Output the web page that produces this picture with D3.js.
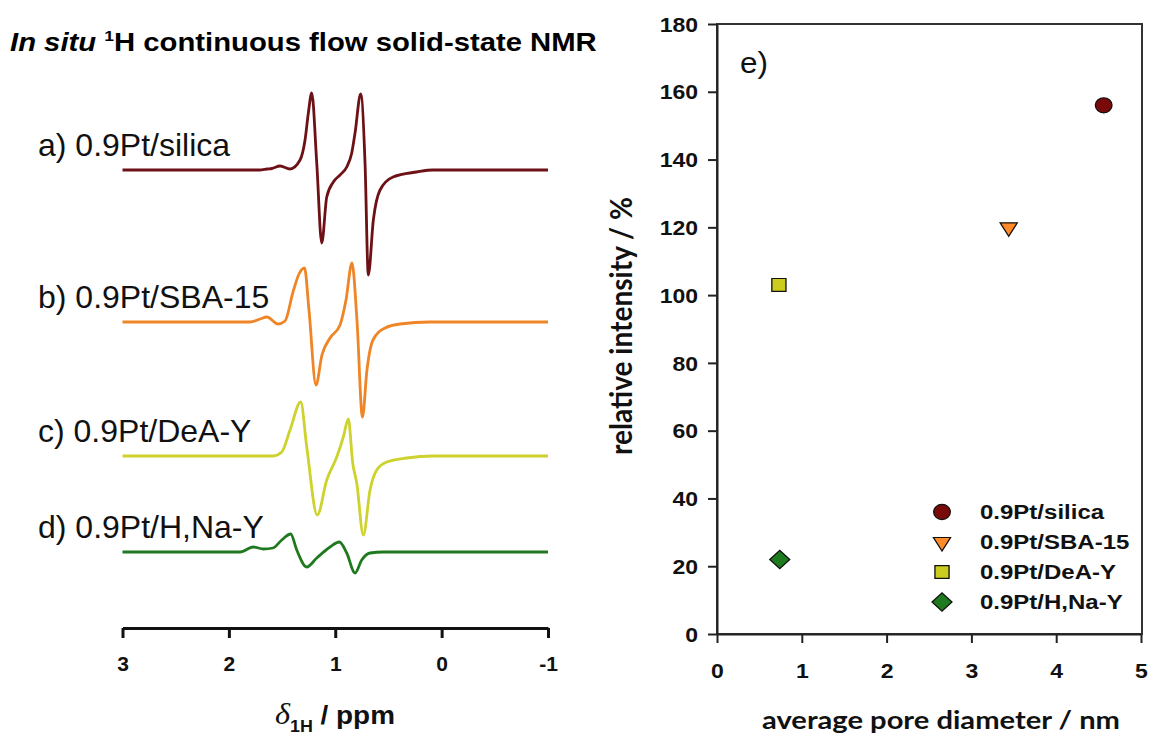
<!DOCTYPE html>
<html>
<head>
<meta charset="utf-8">
<script src="https://cdn.jsdelivr.net/npm/d3@7"></script>
<style>
body { margin: 0; background: #fff; }
svg { display: block; }
</style>
</head>
<body>
<svg></svg>
<script>
// spectra: chemical shift (ppm) and signal (a.u.)
const silicaPpm = [3.00, 2.27, 1.71, 1.64, 1.595, 1.519, 1.425, 1.331, 1.284, 1.253, 1.221, 1.174, 1.127, 1.080, 1.018, 0.955, 0.892, 0.845, 0.814, 0.761, 0.720, 0.689, 0.642, 0.579, 0.457, 0.234, 0.081, -1.00]
const silicaInt = [0, 0, 0, 1, 1.5, 4, 1, 10, 30, 57, 77, 7, -73, -27, -12, -5, 3, 17, 37, 76, 7, -105, -50, -20, -7, -2, 0, 0]

const sbaPpm = [3.00, 1.801, 1.707, 1.642, 1.538, 1.472, 1.397, 1.341, 1.289, 1.247, 1.181, 1.125, 1.049, 0.955, 0.899, 0.843, 0.796, 0.744, 0.702, 0.645, 0.532, 0.391, 0.109, -1.00]
const sbaInt = [0, 0, 3, 5, -2, 1, 30, 48, 54, 12, -63, -33, -16, -3, 22, 59, 2, -95, -48, -18, -6, -2, 0, 0]

const deaPpm = [3.00, 1.585, 1.503, 1.425, 1.325, 1.268, 1.169, 1.080, 0.986, 0.924, 0.877, 0.836, 0.798, 0.736, 0.673, 0.610, 0.516, 0.328, 0.081, -1.00]
const deaInt = [0, 0, 4, 26, 54, 9, -59, -24, -1, 19, 37, -7, -27, -79, -34, -14, -6, -2, 0, 0]

const hnaPpm = [3.00, 1.895, 1.770, 1.676, 1.585, 1.503, 1.419, 1.362, 1.268, 1.174, 1.049, 0.962, 0.892, 0.814, 0.751, 0.673, 0.548, -1.00]
const hnaInt = [0, 0, 5, 3, 4, 12, 18, 2, -15, -6, 5, 10, -1, -21, -8, -1, 0, 0]

const spectrumLabels = ['a) 0.9Pt/silica', 'b) 0.9Pt/SBA-15', 'c) 0.9Pt/DeA-Y', 'd) 0.9Pt/H,Na-Y']
const ppmTicks = [3, 2, 1, 0, -1]

// panel e)
const samples = ['0.9Pt/silica', '0.9Pt/SBA-15', '0.9Pt/DeA-Y', '0.9Pt/H,Na-Y']
const poreDiameter = [4.56, 3.44, 0.73, 0.74]
const relIntensity = [156, 120, 103, 22]
const xTicks = [0, 1, 2, 3, 4, 5]
const yTicks = [0, 20, 40, 60, 80, 100, 120, 140, 160, 180]

let width = 1151
let height = 737
let arial = 'Arial, "Liberation Sans", sans-serif'
let lineColors = ['#6e1116', '#ef8526', '#cdd22c', '#1f7a1f']
let markerColors = ['#7a0a0a', '#ff8c28', '#cccc1e', '#1e7a1e']

let svg = d3.select('svg').attr('width', width).attr('height', height)

// stretch texts sideways, the figure is a bit wider than its fonts
const stretch = (sel, k) => {
    sel.each(function () {
        let w = this.getComputedTextLength()
        d3.select(this).attr('textLength', w * k).attr('lengthAdjust', 'spacingAndGlyphs')
    })
}

// bold tick label look shared by both panels
const tickFont = (sel, size) => {
    sel.style('font-family', arial)
       .style('font-size', size + 'px')
       .style('font-weight', 'bold')
       .attr('fill', '#111')
}

// ---------- left panel: NMR spectra ----------
const ppmScale = d3.scaleLinear().domain([3, -1]).range([122.5, 548])
const intScale = d3.scaleLinear().domain([-100, 100]).range([100, -100])
const baselines = [170, 322, 456, 552]

const spectra = [
    d3.zip(silicaPpm, silicaInt),
    d3.zip(sbaPpm, sbaInt),
    d3.zip(deaPpm, deaInt),
    d3.zip(hnaPpm, hnaInt)
]

const line = d3.line()
    .x(d => ppmScale(d[0]))
    .y(d => intScale(d[1]))
    .curve(d3.curveMonotoneX)

spectra.forEach((s, i) => {
    let g = svg.append('g').attr('transform', 'translate(0,' + baselines[i] + ')')
    g.append('path')
        .attr('d', line(s))
        .attr('fill', 'none')
        .attr('stroke', lineColors[i])
        .attr('stroke-width', 2.8)
        .attr('stroke-linejoin', 'round')
    g.append('text')
        .attr('x', 38)
        .attr('y', -14)
        .attr('font-family', arial)
        .attr('font-size', 32)
        .attr('fill', '#111')
        .text(spectrumLabels[i])
})

// title
let titleG = svg.append('g')
let title = titleG.append('text')
    .attr('font-family', arial)
    .attr('font-size', 25)
    .attr('font-weight', 'bold')
    .attr('fill', '#000')
title.append('tspan').attr('font-style', 'italic').text('In situ ')
title.append('tspan').attr('font-size', 15).attr('dy', -10).text('1')
title.append('tspan').attr('dy', 10).text('H continuous flow solid-state NMR')
let tw = title.node().getBBox().width
titleG.attr('transform', 'translate(10,51) scale(' + (587 / tw) + ',1)')

// ppm axis
let ppmAxis = svg.append('g')
    .attr('transform', 'translate(0,628)')
    .call(d3.axisBottom(ppmScale).tickValues(ppmTicks).tickSize(10).tickSizeOuter(0).tickFormat(d => String(d)))
ppmAxis.select('.domain').attr('stroke', '#111').attr('stroke-width', 3)
ppmAxis.selectAll('.tick line').attr('stroke', '#111').attr('stroke-width', 3)
ppmAxis.selectAll('.tick text').attr('y', 43).attr('dy', null).call(tickFont, 21)

let ppmTitleG = svg.append('g')
let ppmTitle = ppmTitleG.append('text').attr('fill', '#111')
ppmTitle.append('tspan')
    .attr('font-family', '"Liberation Serif", "DejaVu Serif", serif')
    .attr('font-style', 'italic')
    .attr('font-size', 29)
    .text('δ')
ppmTitle.append('tspan')
    .attr('font-family', arial).attr('font-weight', 'bold').attr('font-size', 16)
    .attr('dy', 8)
    .text('1H')
ppmTitle.append('tspan')
    .attr('font-family', arial).attr('font-weight', 'bold').attr('font-size', 25)
    .attr('dy', -8)
    .text(' / ppm')
let pw = ppmTitle.node().getBBox().width
ppmTitleG.attr('transform', 'translate(275,724) scale(' + (120 / pw) + ',1)')

// ---------- right panel: scatter ----------
const xScale = d3.scaleLinear().domain([0, 5]).range([717, 1141])
const yScale = d3.scaleLinear().domain([0, 180]).range([634, 24])

svg.append('rect')
    .attr('x', xScale(0)).attr('y', yScale(180))
    .attr('width', xScale(5) - xScale(0) + 1).attr('height', yScale(0) - yScale(180))
    .attr('fill', 'none').attr('stroke', '#333').attr('stroke-width', 2)

let xAxis = svg.append('g')
    .attr('transform', 'translate(0,634)')
    .call(d3.axisBottom(xScale).tickValues(xTicks).tickSize(9).tickSizeOuter(0).tickFormat(d => String(d)))
xAxis.select('.domain').attr('stroke', '#222').attr('stroke-width', 2)
xAxis.selectAll('.tick line').attr('stroke', '#222').attr('stroke-width', 2)
xAxis.selectAll('.tick text').attr('y', 44).attr('dy', null).call(tickFont, 20)
stretch(xAxis.selectAll('.tick text'), 1.15)

let yAxis = svg.append('g')
    .attr('transform', 'translate(717,0)')
    .call(d3.axisLeft(yScale).tickValues(yTicks).tickSize(9).tickSizeOuter(0).tickFormat(d => String(d)))
yAxis.select('.domain').attr('stroke', '#222').attr('stroke-width', 2)
yAxis.selectAll('.tick line').attr('stroke', '#222').attr('stroke-width', 2)
yAxis.selectAll('.tick text').attr('x', -19).attr('dy', '0.36em').call(tickFont, 20)
stretch(yAxis.selectAll('.tick text'), 1.15)

// axis titles
svg.append('text')
    .attr('x', 941).attr('y', 729)
    .attr('text-anchor', 'middle')
    .attr('font-family', 'Lato, "Open Sans", sans-serif')
    .attr('font-weight', 'bold')
    .attr('font-size', 25)
    .attr('fill', '#111')
    .attr('textLength', 358).attr('lengthAdjust', 'spacingAndGlyphs')
    .text('average pore diameter / nm')

svg.append('g')
    .attr('transform', 'translate(632,326) scale(1.2,1) rotate(-90)')
    .append('text')
    .attr('text-anchor', 'middle')
    .attr('font-family', 'Lato, "Open Sans", sans-serif')
    .attr('font-weight', 'bold')
    .attr('font-size', 25)
    .attr('fill', '#111')
    .attr('textLength', 258).attr('lengthAdjust', 'spacingAndGlyphs')
    .text('relative intensity / %')

svg.append('text')
    .attr('x', 740).attr('y', 73)
    .attr('font-family', arial)
    .attr('font-size', 29)
    .attr('fill', '#111')
    .attr('textLength', 28).attr('lengthAdjust', 'spacingAndGlyphs')
    .text('e)')

// markers
const symbols = [
    { type: d3.symbolCircle, size: 180, rot: 0 },
    { type: d3.symbolTriangle, size: 105, rot: 180 },
    { type: d3.symbolSquare, size: 165, rot: 0 },
    { type: d3.symbolSquare, size: 165, rot: 45 }
]

samples.forEach((name, i) => {
    let sym = d3.symbol().type(symbols[i].type).size(symbols[i].size)
    svg.append('path')
        .attr('d', sym())
        .attr('transform', 'translate(' + xScale(poreDiameter[i]) + ',' + yScale(relIntensity[i]) + ') scale(1.1,1) rotate(' + symbols[i].rot + ')')
        .attr('fill', markerColors[i])
        .attr('stroke', '#111')
        .attr('stroke-width', 1.2)

    let ly = 512 + i * 30
    svg.append('path')
        .attr('d', sym())
        .attr('transform', 'translate(942,' + ly + ') scale(1.1,1) rotate(' + symbols[i].rot + ')')
        .attr('fill', markerColors[i])
        .attr('stroke', '#111')
        .attr('stroke-width', 1.2)
    let t = svg.append('text')
        .attr('x', 980).attr('y', ly + 7)
        .attr('font-family', arial)
        .attr('font-size', 20)
        .attr('font-weight', 'bold')
        .attr('fill', '#111')
        .text(name)
    stretch(t, 1.2)
})
</script>
</body>
</html>
